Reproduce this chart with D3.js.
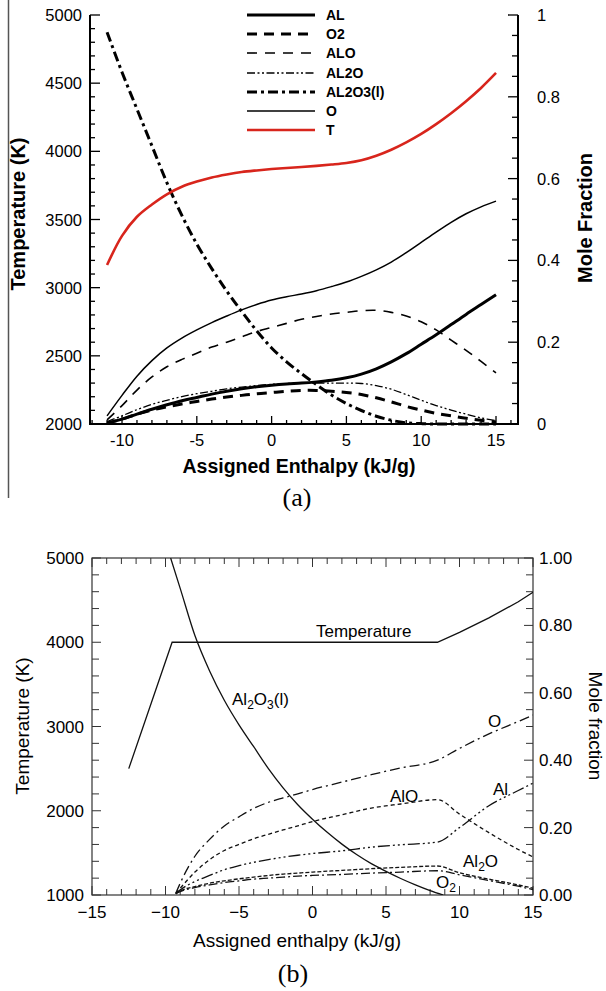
<!DOCTYPE html>
<html>
<head>
<meta charset="utf-8">
<script src="https://cdn.jsdelivr.net/npm/d3@7"></script>
<style>
  body { margin: 0; background: #fff; }
  svg { display: block; }
</style>
</head>
<body>
<script>
// ---- panel (a) data: enthalpy grid and values
var hA = [-11, -10, -9, -8, -7, -6, -5, -4, -3, -2, -1, 0, 1, 2, 3, 4, 5, 6, 7, 8, 9, 10, 11, 12, 13, 14, 15];
var tempA = [3166, 3380, 3520, 3610, 3685, 3740, 3778, 3808, 3830, 3848, 3860, 3870, 3878, 3885, 3893, 3903, 3915, 3935, 3968, 4012, 4066, 4128, 4200, 4280, 4368, 4465, 4575];
var alA = [0.002, 0.012, 0.024, 0.036, 0.047, 0.057, 0.065, 0.073, 0.08, 0.086, 0.091, 0.095, 0.098, 0.1, 0.103, 0.107, 0.113, 0.122, 0.135, 0.152, 0.172, 0.195, 0.218, 0.243, 0.268, 0.292, 0.316];
var o2A = [0.002, 0.012, 0.024, 0.034, 0.042, 0.049, 0.055, 0.061, 0.066, 0.07, 0.074, 0.077, 0.08, 0.082, 0.082, 0.08, 0.077, 0.072, 0.064, 0.054, 0.043, 0.034, 0.026, 0.02, 0.014, 0.009, 0.005];
var aloA = [0.01, 0.045, 0.083, 0.115, 0.14, 0.158, 0.173, 0.188, 0.2, 0.213, 0.226, 0.236, 0.246, 0.256, 0.263, 0.269, 0.273, 0.277, 0.278, 0.273, 0.264, 0.25, 0.23, 0.205, 0.18, 0.153, 0.125];
var al2oA = [0.006, 0.02, 0.035, 0.048, 0.058, 0.067, 0.074, 0.08, 0.086, 0.09, 0.094, 0.097, 0.099, 0.1, 0.1, 0.1, 0.1, 0.099, 0.094, 0.085, 0.072, 0.058, 0.045, 0.034, 0.024, 0.015, 0.008];
var al2o3A = [0.958, 0.86, 0.77, 0.68, 0.59, 0.51, 0.44, 0.38, 0.325, 0.275, 0.228, 0.186, 0.152, 0.123, 0.096, 0.071, 0.05, 0.033, 0.019, 0.009, 0.003, 0.001, 0, 0, 0, 0, 0];
var oA = [0.02, 0.07, 0.117, 0.155, 0.186, 0.21, 0.23, 0.248, 0.264, 0.279, 0.292, 0.303, 0.311, 0.318, 0.326, 0.336, 0.347, 0.361, 0.377, 0.396, 0.419, 0.444, 0.469, 0.493, 0.514, 0.531, 0.545];
var legendNames = ["AL", "O2", "ALO", "AL2O", "AL2O3(l)", "O", "T"];

// ---- panel (b) data: each curve has its own enthalpy points
var tempBh = [-12.5, -9.55, 8.5, 10, 12, 14, 15];
var tempB = [2500, 4000, 4000, 4118, 4290, 4480, 4594];
var al2o3Bh = [-9.65, -9, -8, -7, -6, -5, -4, -3, -2, -1, 0, 1, 2, 3, 4, 5, 6, 7, 8, 8.9];
var al2o3B = [1.0, 0.91, 0.77, 0.665, 0.578, 0.505, 0.44, 0.375, 0.318, 0.268, 0.225, 0.186, 0.151, 0.12, 0.093, 0.07, 0.049, 0.03, 0.013, 0.0];
var specBh = [-9.3, -9, -8, -7, -6, -5, -4, -3, -2, -1, 0, 2, 4, 6, 8.5, 10, 12, 14, 15];
var oB = [0.005, 0.035, 0.115, 0.165, 0.205, 0.232, 0.257, 0.275, 0.288, 0.3, 0.313, 0.335, 0.357, 0.377, 0.4, 0.435, 0.478, 0.515, 0.534];
var aloB = [0.005, 0.02, 0.068, 0.105, 0.132, 0.15, 0.167, 0.18, 0.193, 0.205, 0.218, 0.238, 0.258, 0.27, 0.283, 0.24, 0.185, 0.135, 0.113];
var alB = [0.004, 0.015, 0.04, 0.058, 0.075, 0.087, 0.097, 0.105, 0.112, 0.118, 0.123, 0.131, 0.142, 0.149, 0.157, 0.2, 0.265, 0.31, 0.332];
var al2oB = [0.004, 0.012, 0.025, 0.035, 0.042, 0.048, 0.053, 0.058, 0.062, 0.065, 0.068, 0.073, 0.078, 0.082, 0.086, 0.066, 0.047, 0.03, 0.02];
var o2B = [0.004, 0.01, 0.022, 0.03, 0.037, 0.042, 0.047, 0.05, 0.053, 0.056, 0.058, 0.061, 0.065, 0.068, 0.072, 0.06, 0.043, 0.026, 0.016];

var SANS = "'Liberation Sans', Arial, sans-serif";
var SERIF = "'Liberation Serif', 'DejaVu Serif', serif";
var svg = d3.select("body").append("svg").attr("width", 606).attr("height", 991)
  .style("font-family", SANS);

// ================= panel (a) =================
var ax = d3.scaleLinear().domain([-12.14, 16.47]).range([90, 518]);
var ayT = d3.scaleLinear().domain([2000, 5000]).range([424, 15]);
var ayF = d3.scaleLinear().domain([0, 1]).range([424, 15]);

// stray frame line at the far left
svg.append("line").attr("x1", 8.5).attr("x2", 8.5).attr("y1", 0).attr("y2", 498)
  .attr("stroke", "#555").attr("stroke-width", 1.5);

var ga = svg.append("g");
function tickLines(g, vals, fn) {
  g.selectAll(null).data(vals).enter().append("line")
    .each(function(d) { var c = fn(d); d3.select(this).attr("x1", c[0]).attr("y1", c[1]).attr("x2", c[2]).attr("y2", c[3]); })
    .attr("stroke", g.attr("data-col") || "#000").attr("stroke-width", g.attr("data-w") || 1.2);
}
ga.attr("data-col", "#000").attr("data-w", 1.3);
tickLines(ga, d3.range(-12, 17, 1), function(d) { var L = d % 5 == 0 ? 8 : 4; return [ax(d), 424, ax(d), 424 - L]; });
tickLines(ga, d3.range(2000, 5001, 100), function(d) { var L = d % 500 == 0 ? 10 : 5; return [90, ayT(d), 90 + L, ayT(d)]; });
tickLines(ga, d3.range(0, 1.0001, 0.05), function(d) { var L = Math.round(d * 100) % 20 == 0 ? 10 : 6; return [518, ayF(d), 518 - L, ayF(d)]; });
ga.append("path").attr("d", "M90,15V424H518V15").attr("fill", "none").attr("stroke", "#000").attr("stroke-width", 2);

ga.selectAll(null).data([-10, -5, 0, 5, 10, 15]).enter().append("text")
  .attr("x", function(d) { return ax(d); }).attr("y", 446).attr("text-anchor", "middle")
  .attr("font-size", 16.5).text(function(d) { return d; });
ga.selectAll(null).data(d3.range(2000, 5001, 500)).enter().append("text")
  .attr("x", 82).attr("y", function(d) { return ayT(d) + 6; }).attr("text-anchor", "end")
  .attr("font-size", 16.5).text(function(d) { return d; });
ga.selectAll(null).data([0, 0.2, 0.4, 0.6, 0.8, 1]).enter().append("text")
  .attr("x", 537).attr("y", function(d) { return ayF(d) + 6; })
  .attr("font-size", 16.5).text(function(d) { return d; });

ga.append("text").attr("transform", "translate(25,214) rotate(-90)").attr("text-anchor", "middle")
  .attr("font-size", 20).attr("font-weight", "bold").text("Temperature (K)");
ga.append("text").attr("transform", "translate(592,218) rotate(-90)").attr("text-anchor", "middle")
  .attr("font-size", 20).attr("font-weight", "bold").text("Mole Fraction");
ga.append("text").attr("x", 299).attr("y", 473).attr("text-anchor", "middle")
  .attr("font-size", 19.5).attr("font-weight", "bold").text("Assigned Enthalpy (kJ/g)");
svg.append("text").attr("x", 297).attr("y", 506).attr("text-anchor", "middle")
  .style("font-family", SERIF).attr("font-size", 26).text("(a)");

var styleA = [
  { vals: alA, w: 3, dash: null, col: "#000" },
  { vals: o2A, w: 3, dash: "10,7", col: "#000" },
  { vals: aloA, w: 1.6, dash: "10,8", col: "#000" },
  { vals: al2oA, w: 1.3, dash: "8,2.5,2,2.5,2,2.5", col: "#000" },
  { vals: al2o3A, w: 3, dash: "10,4,3,4", col: "#000" },
  { vals: oA, w: 1.5, dash: null, col: "#000" },
  { vals: tempA, w: 2.6, dash: null, col: "#d8251c", temp: true }
];
styleA.forEach(function(s) {
  var yS = s.temp ? ayT : ayF;
  var line = d3.line().curve(d3.curveCatmullRom.alpha(0.5))
    .x(function(d, i) { return ax(hA[i]); }).y(function(d) { return yS(d); });
  ga.append("path").datum(s.vals).attr("d", line).attr("fill", "none")
    .attr("stroke", s.col).attr("stroke-width", s.w).attr("stroke-dasharray", s.dash);
});
// legend
var legY = [15, 34, 53, 73, 92, 111, 130];
styleA.forEach(function(s, i) {
  ga.append("line").attr("x1", 247).attr("x2", 315).attr("y1", legY[i]).attr("y2", legY[i])
    .attr("stroke", s.col).attr("stroke-width", s.w).attr("stroke-dasharray", s.dash);
  ga.append("text").attr("x", 326).attr("y", legY[i] + 5).attr("font-size", 14).attr("font-weight", "bold")
    .text(legendNames[i]);
});

// ================= panel (b) =================
var bx = d3.scaleLinear().domain([-15, 15]).range([92, 533]);
var byT = d3.scaleLinear().domain([1000, 5000]).range([895, 558]);
var byF = d3.scaleLinear().domain([0, 1]).range([895, 558]);
var gb = svg.append("g");
gb.attr("data-col", "#333").attr("data-w", 1);
tickLines(gb, d3.range(-15, 16, 1), function(d) { var L = d % 5 == 0 ? 9 : 6; return [bx(d), 895, bx(d), 895 - L]; });
tickLines(gb, d3.range(-15, 16, 1), function(d) { var L = d % 5 == 0 ? 9 : 6; return [bx(d), 558, bx(d), 558 + L]; });
tickLines(gb, d3.range(1000, 5001, 200), function(d) { var L = d % 1000 == 0 ? 9 : 7; return [92, byT(d), 92 + L, byT(d)]; });
tickLines(gb, d3.range(0, 1.0001, 0.05), function(d) { var L = Math.round(d * 100) % 20 == 0 ? 9 : 7; return [533, byF(d), 533 - L, byF(d)]; });
gb.append("rect").attr("x", 92).attr("y", 558).attr("width", 441).attr("height", 337)
  .attr("fill", "none").attr("stroke", "#333").attr("stroke-width", 1.2);

gb.selectAll(null).data([-15, -10, -5, 0, 5, 10, 15]).enter().append("text")
  .attr("x", function(d) { return bx(d); }).attr("y", 918).attr("text-anchor", "middle")
  .attr("font-size", 17).text(function(d) { return d < 0 ? "\u2212" + Math.abs(d) : d; });
gb.selectAll(null).data(d3.range(1000, 5001, 1000)).enter().append("text")
  .attr("x", 84).attr("y", function(d) { return byT(d) + 6; }).attr("text-anchor", "end")
  .attr("font-size", 17).text(function(d) { return d; });
gb.selectAll(null).data([0, 0.2, 0.4, 0.6, 0.8, 1]).enter().append("text")
  .attr("x", 539).attr("y", function(d) { return byF(d) + 6; })
  .attr("font-size", 17).text(function(d) { return d3.format(".2f")(d); });

gb.append("text").attr("transform", "translate(29,726) rotate(-90)").attr("text-anchor", "middle")
  .attr("font-size", 19).text("Temperature (K)");
gb.append("text").attr("transform", "translate(589,726) rotate(90)").attr("text-anchor", "middle")
  .attr("font-size", 19).text("Mole fraction");
gb.append("text").attr("x", 297).attr("y", 947).attr("text-anchor", "middle")
  .attr("font-size", 19).text("Assigned enthalpy (kJ/g)");
svg.append("text").attr("x", 293).attr("y", 982).attr("text-anchor", "middle")
  .style("font-family", SERIF).attr("font-size", 26).text("(b)");

gb.append("clipPath").attr("id", "clipb").append("rect")
  .attr("x", 92).attr("y", 558).attr("width", 441).attr("height", 337);
var curvesB = gb.append("g").attr("clip-path", "url(#clipb)");
function drawB(hs, vals, yS, dash, curve) {
  var line = d3.line().curve(curve)
    .x(function(d, i) { return bx(hs[i]); }).y(function(d) { return yS(d); });
  curvesB.append("path").datum(vals).attr("d", line).attr("fill", "none")
    .attr("stroke", "#111").attr("stroke-width", 1.3).attr("stroke-dasharray", dash);
}
drawB(tempBh, tempB, byT, null, d3.curveLinear);
drawB(al2o3Bh, al2o3B, byF, null, d3.curveMonotoneX);
drawB(specBh, oB, byF, "10,4,2,4", d3.curveMonotoneX);
drawB(specBh, aloB, byF, "4,3", d3.curveMonotoneX);
drawB(specBh, alB, byF, "12,3,2,3,2,3,2,3", d3.curveMonotoneX);
drawB(specBh, al2oB, byF, "4,2", d3.curveMonotoneX);
drawB(specBh, o2B, byF, "9,3,2,3", d3.curveMonotoneX);

// curve labels in (b)
function chem(x, y, parts) {
  var t = gb.append("text").attr("x", x).attr("y", y).attr("font-size", 17);
  parts.forEach(function(p) {
    if (p.sub) t.append("tspan").attr("font-size", 12).attr("dy", 4).text(p.s);
    else t.append("tspan").attr("dy", p.back ? -4 : 0).text(p.s);
  });
}
chem(316, 637, [{ s: "Temperature" }]);
chem(232, 705, [{ s: "Al" }, { s: "2", sub: true }, { s: "O", back: true }, { s: "3", sub: true }, { s: "(l)", back: true }]);
chem(488, 727, [{ s: "O" }]);
chem(390, 802, [{ s: "AlO" }]);
chem(493, 795, [{ s: "Al" }]);
chem(463, 867, [{ s: "Al" }, { s: "2", sub: true }, { s: "O", back: true }]);
chem(436, 888, [{ s: "O" }, { s: "2", sub: true }]);
</script>
</body>
</html>
